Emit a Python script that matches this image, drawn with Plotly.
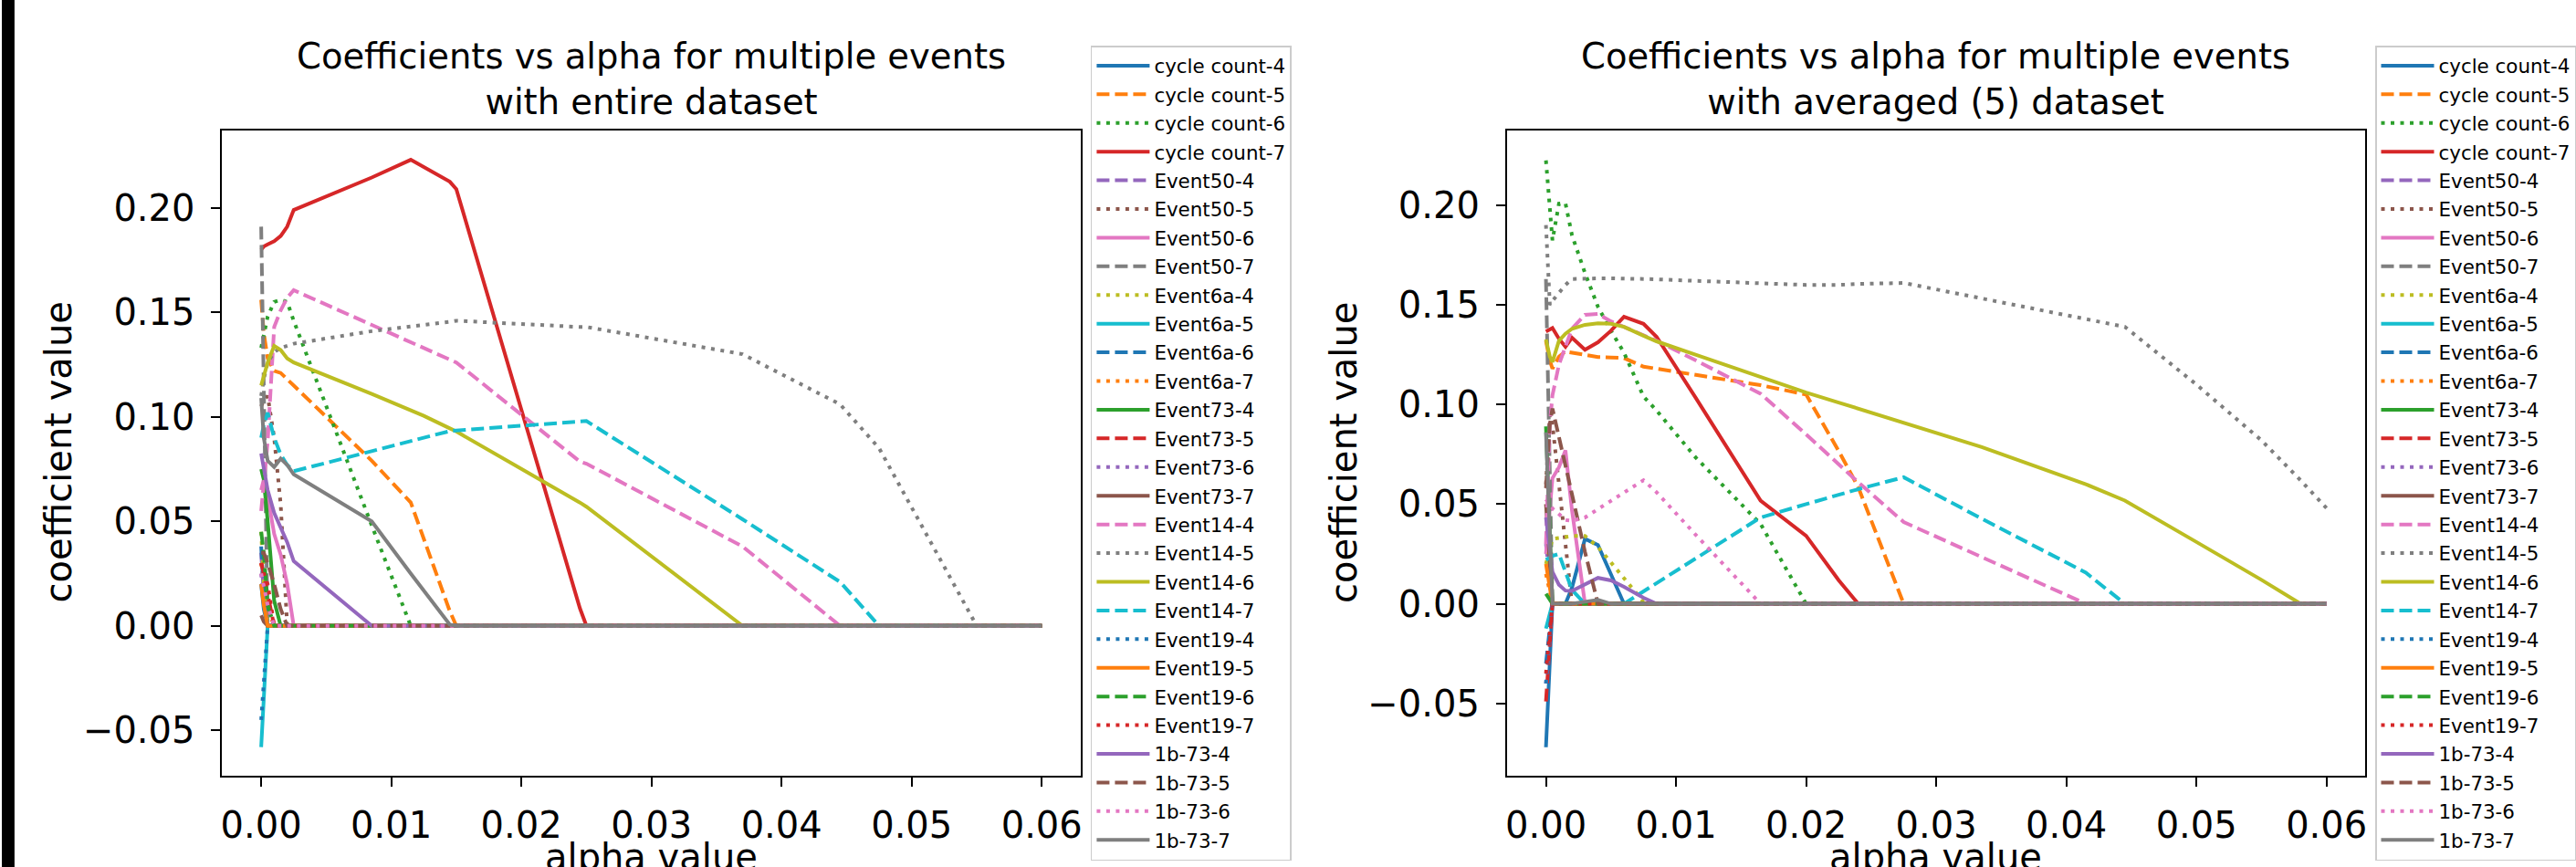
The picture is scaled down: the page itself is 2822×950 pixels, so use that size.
import plotly.graph_objects as go

# ---------------------------------------------------------------------------
# Lasso coefficient paths: alpha grid (knots) and coefficient values
# ---------------------------------------------------------------------------
series_names = [
    "cycle count-4", "cycle count-5", "cycle count-6", "cycle count-7",
    "Event50-4", "Event50-5", "Event50-6", "Event50-7",
    "Event6a-4", "Event6a-5", "Event6a-6", "Event6a-7",
    "Event73-4", "Event73-5", "Event73-6", "Event73-7",
    "Event14-4", "Event14-5", "Event14-6", "Event14-7",
    "Event19-4", "Event19-5", "Event19-6", "Event19-7",
    "1b-73-4", "1b-73-5", "1b-73-6", "1b-73-7",
]

# ----- entire dataset -----
alpha_entire = [0, 0.0002, 0.0005, 0.001, 0.0015, 0.002, 0.0025, 0.0085, 0.0115, 0.0125,
                0.0145, 0.015, 0.0245, 0.025, 0.037, 0.0445, 0.0475, 0.055, 0.06]

ent_cc4 = [0.020, 0.008, 0, 0, 0, 0, 0, 0, 0, 0, 0, 0, 0, 0, 0, 0, 0, 0, 0]
ent_cc5 = [0.156, 0.140, 0.128, 0.122, 0.121, 0.118, 0.115, 0.079, 0.059, 0.042, 0.007, 0, 0, 0, 0, 0, 0, 0, 0]
ent_cc6 = [0.133, 0.140, 0.148, 0.155, 0.156, 0.155, 0.146, 0.048, 0, 0, 0, 0, 0, 0, 0, 0, 0, 0, 0]
ent_cc7 = [0.180, 0.1815, 0.1825, 0.184, 0.1865, 0.191, 0.199, 0.2145, 0.223, 0.2195, 0.2125, 0.209, 0.0084, 0, 0, 0, 0, 0, 0]
ent_e50_4 = [0.035, 0.015, 0, 0, 0, 0, 0, 0, 0, 0, 0, 0, 0, 0, 0, 0, 0, 0, 0]
ent_e50_5 = [0.105, 0.108, 0.110, 0.090, 0.058, 0, 0, 0, 0, 0, 0, 0, 0, 0, 0, 0, 0, 0, 0]
ent_e50_6 = [0.065, 0.070, 0.062, 0.044, 0.034, 0.020, 0, 0, 0, 0, 0, 0, 0, 0, 0, 0, 0, 0, 0]
ent_e50_7 = [0.191, 0.115, 0, 0, 0, 0, 0, 0, 0, 0, 0, 0, 0, 0, 0, 0, 0, 0, 0]
ent_e6a_4 = [0.045, 0.020, 0, 0, 0, 0, 0, 0, 0, 0, 0, 0, 0, 0, 0, 0, 0, 0, 0]
ent_e6a_5 = [-0.058, -0.035, 0, 0, 0, 0, 0, 0, 0, 0, 0, 0, 0, 0, 0, 0, 0, 0, 0]
ent_e6a_6 = [0.038, 0.015, 0, 0, 0, 0, 0, 0, 0, 0, 0, 0, 0, 0, 0, 0, 0, 0, 0]
ent_e6a_7 = [0.030, 0.020, 0.008, 0, 0, 0, 0, 0, 0, 0, 0, 0, 0, 0, 0, 0, 0, 0, 0]
ent_e73_4 = [0.075, 0.070, 0.050, 0.012, 0, 0, 0, 0, 0, 0, 0, 0, 0, 0, 0, 0, 0, 0, 0]
ent_e73_5 = [0.030, 0.025, 0.015, 0, 0, 0, 0, 0, 0, 0, 0, 0, 0, 0, 0, 0, 0, 0, 0]
ent_e73_6 = [0.025, 0.012, 0, 0, 0, 0, 0, 0, 0, 0, 0, 0, 0, 0, 0, 0, 0, 0, 0]
ent_e73_7 = [0.005, 0.002, 0, 0, 0, 0, 0, 0, 0, 0, 0, 0, 0, 0, 0, 0, 0, 0, 0]
ent_e14_4 = [0.055, 0.070, 0.088, 0.143, 0.151, 0.157, 0.1606, 0.144, 0.1355, 0.1327, 0.1271, 0.126, 0.0786, 0.0776, 0.038, 0, 0, 0, 0]
ent_e14_5 = [0.110, 0.118, 0.126, 0.131, 0.133, 0.134, 0.135, 0.141, 0.1435, 0.144, 0.1455, 0.146, 0.143, 0.143, 0.130, 0.106, 0.085, 0, 0]
ent_e14_6 = [0.115, 0.120, 0.126, 0.134, 0.132, 0.128, 0.126, 0.111, 0.103, 0.1005, 0.0945, 0.093, 0.059, 0.057, 0, 0, 0, 0, 0]
ent_e14_7 = [0.090, 0.096, 0.102, 0.090, 0.082, 0.077, 0.074, 0.0835, 0.088, 0.0898, 0.0932, 0.0935, 0.0978, 0.098, 0.051, 0.021, 0, 0, 0]
ent_e19_4 = [-0.045, -0.025, 0, 0, 0, 0, 0, 0, 0, 0, 0, 0, 0, 0, 0, 0, 0, 0, 0]
ent_e19_5 = [0.020, 0.010, 0, 0, 0, 0, 0, 0, 0, 0, 0, 0, 0, 0, 0, 0, 0, 0, 0]
ent_e19_6 = [0.045, 0.035, 0.010, 0, 0, 0, 0, 0, 0, 0, 0, 0, 0, 0, 0, 0, 0, 0, 0]
ent_e19_7 = [0.030, 0.025, 0.020, 0, 0, 0, 0, 0, 0, 0, 0, 0, 0, 0, 0, 0, 0, 0, 0]
ent_1b_4 = [0.0825, 0.075, 0.065, 0.054, 0.047, 0.040, 0.031, 0, 0, 0, 0, 0, 0, 0, 0, 0, 0, 0, 0]
ent_1b_5 = [0.035, 0.035, 0.030, 0.020, 0.008, 0, 0, 0, 0, 0, 0, 0, 0, 0, 0, 0, 0, 0, 0]
ent_1b_6 = [0.025, 0.018, 0.010, 0, 0, 0, 0, 0, 0, 0, 0, 0, 0, 0, 0, 0, 0, 0, 0]
ent_1b_7 = [0.109, 0.090, 0.079, 0.076, 0.080, 0.077, 0.0725, 0.050, 0.025, 0.017, 0.0006, 0, 0, 0, 0, 0, 0, 0, 0]

# ----- averaged (5) dataset -----
alpha_avg = [0, 0.0003, 0.0005, 0.001, 0.0015, 0.002, 0.003, 0.004, 0.005, 0.006, 0.0075, 0.0085,
             0.0115, 0.0165, 0.02, 0.0225, 0.024, 0.0275, 0.0335, 0.0415, 0.0445, 0.05, 0.055, 0.058, 0.06]

avg_cc4 = [-0.072, -0.030, 0, 0, 0, 0.008, 0.0326, 0.0295, 0.015, 0, 0, 0, 0, 0, 0, 0, 0, 0, 0, 0, 0, 0, 0, 0, 0]
avg_cc5 = [0.132, 0.122, 0.118, 0.124, 0.1266, 0.126, 0.1246, 0.1238, 0.1236, 0.1233, 0.119, 0.118, 0.115, 0.1097, 0.105, 0.0767, 0.0586, 0, 0, 0, 0, 0, 0, 0, 0]
avg_cc6 = [0.2225, 0.198, 0.1824, 0.2008, 0.201, 0.185, 0.166, 0.149, 0.137, 0.126, 0.104, 0.097, 0.0735, 0.040, 0, 0, 0, 0, 0, 0, 0, 0, 0, 0, 0]
avg_cc7 = [0.1366, 0.138, 0.1384, 0.133, 0.129, 0.1335, 0.1275, 0.1312, 0.137, 0.144, 0.1405, 0.134, 0.1035, 0.0517, 0.0341, 0.0118, 0, 0, 0, 0, 0, 0, 0, 0, 0]
avg_e50_4 = [0.030, 0.010, 0, 0, 0, 0, 0, 0, 0, 0, 0, 0, 0, 0, 0, 0, 0, 0, 0, 0, 0, 0, 0, 0, 0]
avg_e50_5 = [0.060, 0.095, 0.090, 0.060, 0.030, 0, 0, 0, 0, 0, 0, 0, 0, 0, 0, 0, 0, 0, 0, 0, 0, 0, 0, 0, 0]
avg_e50_6 = [0.025, 0.050, 0.063, 0.0685, 0.077, 0.047, 0, 0, 0, 0, 0, 0, 0, 0, 0, 0, 0, 0, 0, 0, 0, 0, 0, 0, 0]
avg_e50_7 = [0.163, 0.060, 0, 0, 0, 0, 0, 0, 0, 0, 0, 0, 0, 0, 0, 0, 0, 0, 0, 0, 0, 0, 0, 0, 0]
avg_e6a_4 = [0.020, 0.028, 0.0326, 0.033, 0.0335, 0.034, 0.034, 0.0285, 0.0207, 0.013, 0.001, 0, 0, 0, 0, 0, 0, 0, 0, 0, 0, 0, 0, 0, 0]
avg_e6a_5 = [-0.0125, -0.005, 0, 0, 0, 0, 0, 0, 0, 0, 0, 0, 0, 0, 0, 0, 0, 0, 0, 0, 0, 0, 0, 0, 0]
avg_e6a_6 = [-0.030, -0.010, 0, 0, 0, 0, 0, 0, 0, 0, 0, 0, 0, 0, 0, 0, 0, 0, 0, 0, 0, 0, 0, 0, 0]
avg_e6a_7 = [0.015, 0.005, 0, 0, 0, 0, 0, 0, 0, 0, 0, 0, 0, 0, 0, 0, 0, 0, 0, 0, 0, 0, 0, 0, 0]
avg_e73_4 = [0.089, 0.030, 0, 0, 0, 0, 0, 0, 0, 0, 0, 0, 0, 0, 0, 0, 0, 0, 0, 0, 0, 0, 0, 0, 0]
avg_e73_5 = [-0.049, -0.020, 0, 0, 0, 0, 0, 0, 0, 0, 0, 0, 0, 0, 0, 0, 0, 0, 0, 0, 0, 0, 0, 0, 0]
avg_e73_6 = [-0.040, -0.015, 0, 0, 0, 0, 0, 0, 0, 0, 0, 0, 0, 0, 0, 0, 0, 0, 0, 0, 0, 0, 0, 0, 0]
avg_e73_7 = [0.050, 0.020, 0, 0, 0, 0, 0, 0, 0, 0, 0, 0, 0, 0, 0, 0, 0, 0, 0, 0, 0, 0, 0, 0, 0]
avg_e14_4 = [0.030, 0.090, 0.1046, 0.120, 0.129, 0.138, 0.145, 0.1455, 0.1417, 0.139, 0.135, 0.132, 0.1222, 0.1054, 0.085, 0.0698, 0.061, 0.041, 0.0233, 0, 0, 0, 0, 0, 0]
avg_e14_5 = [0.190, 0.150, 0.152, 0.156, 0.160, 0.163, 0.1633, 0.1633, 0.1633, 0.1633, 0.163, 0.1628, 0.162, 0.1605, 0.160, 0.160, 0.1605, 0.161, 0.1533, 0.143, 0.139, 0.110, 0.082, 0.062, 0.048]
avg_e14_6 = [0.1327, 0.124, 0.1213, 0.132, 0.1355, 0.138, 0.140, 0.1408, 0.1405, 0.139, 0.1345, 0.1317, 0.125, 0.1137, 0.106, 0.101, 0.098, 0.091, 0.0786, 0.060, 0.0518, 0.031, 0.012, 0, 0]
avg_e14_7 = [0.022, 0.023, 0.024, 0.025, 0.0156, 0.007, 0, 0, 0, 0, 0.0062, 0.0103, 0.0227, 0.0433, 0.050, 0.0547, 0.0575, 0.0635, 0.0427, 0.0156, 0, 0, 0, 0, 0]
avg_e19_4 = [-0.040, -0.015, 0, 0, 0, 0, 0, 0, 0, 0, 0, 0, 0, 0, 0, 0, 0, 0, 0, 0, 0, 0, 0, 0, 0]
avg_e19_5 = [0.020, 0.008, 0, 0, 0, 0, 0, 0, 0, 0, 0, 0, 0, 0, 0, 0, 0, 0, 0, 0, 0, 0, 0, 0, 0]
avg_e19_6 = [0.005, 0.002, 0, 0, 0, 0, 0, 0, 0, 0, 0, 0, 0, 0, 0, 0, 0, 0, 0, 0, 0, 0, 0, 0, 0]
avg_e19_7 = [-0.035, -0.012, 0, 0, 0, 0, 0, 0, 0, 0, 0, 0, 0, 0, 0, 0, 0, 0, 0, 0, 0, 0, 0, 0, 0]
avg_1b_4 = [0.0433, 0.028, 0.016, 0.0095, 0.0066, 0.0064, 0.0095, 0.013, 0.0117, 0.0085, 0.003, 0, 0, 0, 0, 0, 0, 0, 0, 0, 0, 0, 0, 0, 0]
avg_1b_5 = [0.058, 0.090, 0.098, 0.084, 0.069, 0.055, 0.026, 0, 0, 0, 0, 0, 0, 0, 0, 0, 0, 0, 0, 0, 0, 0, 0, 0, 0]
avg_1b_6 = [0.0524, 0.050, 0.0478, 0.045, 0.042, 0.0417, 0.0433, 0.0475, 0.0516, 0.0557, 0.062, 0.056, 0.0347, 0, 0, 0, 0, 0, 0, 0, 0, 0, 0, 0, 0]
avg_1b_7 = [0.086, 0.030, 0, 0, 0, 0, 0.001, 0.002, 0, 0, 0, 0, 0, 0, 0, 0, 0, 0, 0, 0, 0, 0, 0, 0, 0]

entire_paths = [ent_cc4, ent_cc5, ent_cc6, ent_cc7, ent_e50_4, ent_e50_5, ent_e50_6, ent_e50_7,
                ent_e6a_4, ent_e6a_5, ent_e6a_6, ent_e6a_7, ent_e73_4, ent_e73_5, ent_e73_6, ent_e73_7,
                ent_e14_4, ent_e14_5, ent_e14_6, ent_e14_7, ent_e19_4, ent_e19_5, ent_e19_6, ent_e19_7,
                ent_1b_4, ent_1b_5, ent_1b_6, ent_1b_7]
averaged_paths = [avg_cc4, avg_cc5, avg_cc6, avg_cc7, avg_e50_4, avg_e50_5, avg_e50_6, avg_e50_7,
                  avg_e6a_4, avg_e6a_5, avg_e6a_6, avg_e6a_7, avg_e73_4, avg_e73_5, avg_e73_6, avg_e73_7,
                  avg_e14_4, avg_e14_5, avg_e14_6, avg_e14_7, avg_e19_4, avg_e19_5, avg_e19_6, avg_e19_7,
                  avg_1b_4, avg_1b_5, avg_1b_6, avg_1b_7]

x_ticks = [0.0, 0.01, 0.02, 0.03, 0.04, 0.05, 0.06]
y_ticks = [-0.05, 0.0, 0.05, 0.10, 0.15, 0.20]

# ---------------------------------------------------------------------------
# Styling
# ---------------------------------------------------------------------------
W, H = 2822, 950
FONT = "DejaVu Sans"
palette = ["#1f77b4", "#ff7f0e", "#2ca02c", "#d62728", "#9467bd",
           "#8c564b", "#e377c2", "#7f7f7f", "#bcbd22", "#17becf"]
dash_cycle = ["solid", "14px,6px", "4px,6.5px"]
LW = 4.0


def px_x(p):
    return p / W


def px_y(p):
    return 1 - p / H


fig = go.Figure()

panels = [
    (alpha_entire, entire_paths, "x", "y", "legend", "ent"),
    (alpha_avg, averaged_paths, "x2", "y2", "legend2", "avg"),
]
for alphas, paths, xa, ya, lg, tag in panels:
    for i, (name, vals) in enumerate(zip(series_names, paths)):
        fig.add_trace(go.Scatter(
            x=alphas, y=vals, mode="lines", name=name,
            line=dict(color=palette[i % 10], width=LW, dash=dash_cycle[i % 3]),
            xaxis=xa, yaxis=ya, legend=lg, legendgroup=f"{tag}{i}", showlegend=True,
        ))

axis_common = dict(
    showline=True, mirror=True, linecolor="black", linewidth=1.8,
    ticks="outside", ticklen=10, tickwidth=1.8, tickcolor="black",
    showgrid=False, zeroline=False,
    tickfont=dict(family=FONT, size=40, color="black"),
)

left_dom = [px_x(243), px_x(1190)]
right_dom = [px_x(1660), px_x(2607)]
y_dom = [px_y(850), px_y(143)]

legend_common = dict(
    xanchor="left", yanchor="top", bgcolor="white", bordercolor="#cccccc", borderwidth=1.5,
    font=dict(family=FONT, size=21.4, color="black"), itemwidth=58, tracegroupgap=0.6,
)

fig.update_layout(
    width=W, height=H,
    margin=dict(l=0, r=0, t=0, b=0),
    paper_bgcolor="white", plot_bgcolor="white",
    font=dict(family=FONT, color="black"),
    xaxis=dict(domain=left_dom, range=[-0.003, 0.063], tickvals=x_ticks, tickformat=".2f",
               anchor="y", ticklabelstandoff=8, **axis_common),
    yaxis=dict(domain=y_dom, range=[-0.0717, 0.237], tickvals=y_ticks, tickformat=".2f",
               anchor="x", ticklabelstandoff=10, **axis_common),
    xaxis2=dict(domain=right_dom, range=[-0.003, 0.063], tickvals=x_ticks, tickformat=".2f",
                anchor="y2", ticklabelstandoff=8, **axis_common),
    yaxis2=dict(domain=y_dom, range=[-0.0863, 0.2375], tickvals=y_ticks, tickformat=".2f",
                anchor="x2", ticklabelstandoff=10, **axis_common),
    legend=dict(x=px_x(1201), y=px_y(50), **legend_common),
    legend2=dict(x=px_x(2618), y=px_y(50), **legend_common),
)

titles = [
    ("Coefficients vs alpha for multiple events<br>with entire dataset", 716),
    ("Coefficients vs alpha for multiple events<br>with averaged (5) dataset", 2133),
]
for text, cx in titles:
    fig.add_annotation(text=text, x=px_x(cx), y=px_y(136), xref="paper", yref="paper",
                       xanchor="center", yanchor="bottom", showarrow=False,
                       font=dict(family=FONT, size=38.5, color="black"), align="center")

for cx in (716, 2133):
    fig.add_annotation(text="alpha value", x=px_x(cx), y=px_y(914), xref="paper", yref="paper",
                       xanchor="center", yanchor="top", showarrow=False,
                       font=dict(family=FONT, size=40, color="black"))

for cx in (62, 1480):
    fig.add_annotation(text="coefficient value", x=px_x(cx), y=px_y(496), xref="paper",
                       yref="paper", xanchor="center", yanchor="middle", showarrow=False,
                       textangle=-90, font=dict(family=FONT, size=40, color="black"))

# dark strip along the left edge of the canvas
fig.add_shape(type="rect", xref="paper", yref="paper", x0=0, x1=px_x(14), y0=0, y1=1,
              fillcolor="black", line=dict(width=0), layer="above")

fig.write_html("out.html")
